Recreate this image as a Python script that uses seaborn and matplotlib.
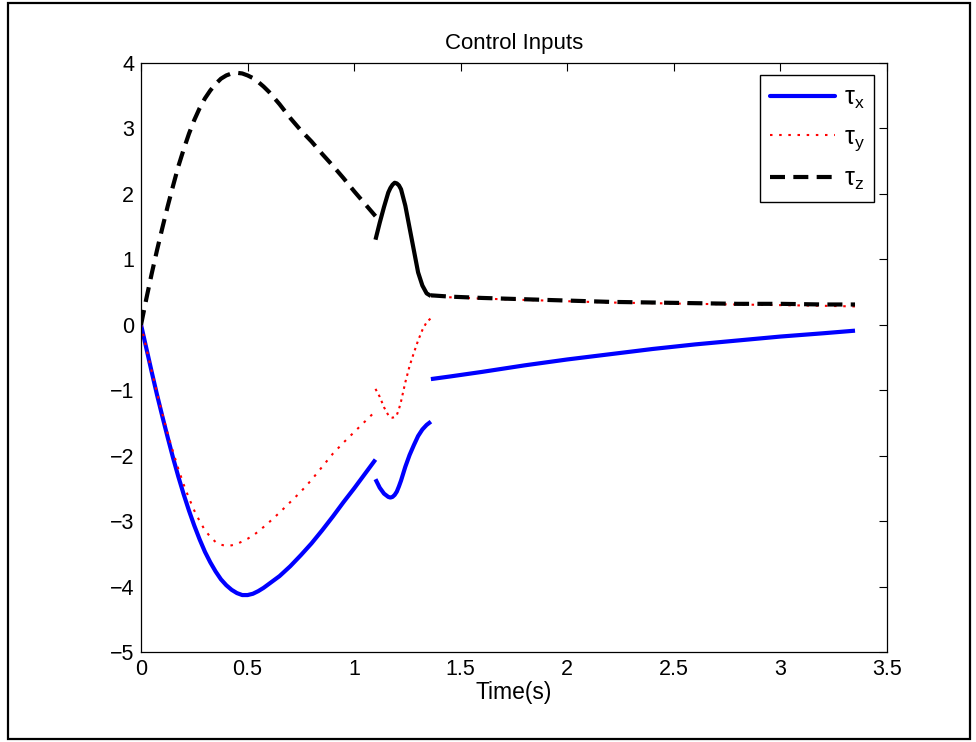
import matplotlib
matplotlib.use("Agg")
import matplotlib.pyplot as plt
from matplotlib.lines import Line2D
from matplotlib.patches import Rectangle
import numpy as np
import pandas as pd
import seaborn as sns

# --- values (three time segments) ---
t_seg1 = [0.0, 0.025, 0.05, 0.075, 0.1, 0.125, 0.15, 0.175, 0.2, 0.225, 0.25, 0.275, 0.3,
          0.325, 0.35, 0.375, 0.4, 0.425, 0.45, 0.475, 0.5, 0.525, 0.55, 0.575, 0.6,
          0.65, 0.7, 0.75, 0.8, 0.85, 0.9, 0.95, 1.0, 1.05, 1.1]
tau_x_seg1 = [0.0, -0.36, -0.72, -1.07, -1.40, -1.72, -2.03, -2.32, -2.59, -2.84, -3.07, -3.28, -3.47,
              -3.63, -3.77, -3.89, -3.98, -4.05, -4.10, -4.13, -4.13, -4.11, -4.07, -4.02, -3.96,
              -3.84, -3.69, -3.52, -3.34, -3.14, -2.93, -2.71, -2.50, -2.28, -2.06]
tau_y_seg1 = [0.0, -0.36, -0.71, -1.04, -1.36, -1.66, -1.94, -2.20, -2.44, -2.65, -2.84, -3.00, -3.14,
              -3.24, -3.32, -3.36, -3.38, -3.37, -3.35, -3.31, -3.27, -3.22, -3.16, -3.09, -3.02,
              -2.87, -2.71, -2.55, -2.37, -2.17, -1.97, -1.80, -1.64, -1.48, -1.32]
tau_z_seg1 = [0.0, 0.40, 0.78, 1.14, 1.48, 1.81, 2.12, 2.42, 2.68, 2.92, 3.13, 3.31, 3.46,
              3.58, 3.68, 3.76, 3.81, 3.84, 3.85, 3.84, 3.81, 3.77, 3.71, 3.64, 3.56,
              3.37, 3.16, 2.97, 2.80, 2.61, 2.43, 2.24, 2.04, 1.85, 1.66]

t_seg2 = [1.10, 1.12, 1.14, 1.16, 1.17, 1.18, 1.19, 1.20, 1.21, 1.22, 1.24, 1.26, 1.28, 1.30, 1.32, 1.34, 1.36]
tau_x_seg2 = [-2.36, -2.49, -2.58, -2.63, -2.64, -2.63, -2.60, -2.55, -2.47, -2.38, -2.17, -1.99, -1.84, -1.70, -1.60, -1.53, -1.48]
tau_y_seg2 = [-0.98, -1.10, -1.26, -1.38, -1.41, -1.42, -1.41, -1.38, -1.29, -1.17, -0.88, -0.63, -0.43, -0.24, -0.08, 0.04, 0.10]
tau_z_seg2 = [1.30, 1.56, 1.80, 2.02, 2.09, 2.14, 2.17, 2.16, 2.13, 2.07, 1.82, 1.48, 1.14, 0.80, 0.60, 0.48, 0.44]

t_seg3 = [1.36, 1.45, 1.6, 1.8, 2.0, 2.2, 2.4, 2.6, 2.8, 3.0, 3.2, 3.35]
tau_x_seg3 = [-0.83, -0.79, -0.72, -0.62, -0.53, -0.45, -0.37, -0.30, -0.24, -0.18, -0.13, -0.09]
tau_y_seg3 = [0.44, 0.42, 0.40, 0.38, 0.36, 0.34, 0.33, 0.32, 0.31, 0.30, 0.29, 0.28]
tau_z_seg3 = [0.45, 0.43, 0.41, 0.39, 0.37, 0.35, 0.34, 0.33, 0.32, 0.32, 0.31, 0.31]

series_names = ["tau_x", "tau_y", "tau_z"]
legend_labels = [r"τ$_{\rm x}$", r"τ$_{\rm y}$", r"τ$_{\rm z}$"]

# long table: one row per point
rows = []
segments = {
    1: (t_seg1, [tau_x_seg1, tau_y_seg1, tau_z_seg1]),
    2: (t_seg2, [tau_x_seg2, tau_y_seg2, tau_z_seg2]),
    3: (t_seg3, [tau_x_seg3, tau_y_seg3, tau_z_seg3]),
}
for seg, (ts, ys) in segments.items():
    for name, vals in zip(series_names, ys):
        for t, v in zip(ts, vals):
            rows.append({"t": t, "value": v, "series": name, "segment": seg})
df = pd.DataFrame(rows)

sns.set_style("white")
plt.rcParams["font.family"] = ["Liberation Sans", "DejaVu Sans"]
plt.rcParams["mathtext.fontset"] = "custom"
plt.rcParams["mathtext.rm"] = "Liberation Sans"
plt.rcParams["mathtext.it"] = "Liberation Sans:italic"
for key in ["text.color", "axes.labelcolor", "xtick.color", "ytick.color"]:
    plt.rcParams[key] = "black"

styles = {
    "tau_x": dict(color="#0000ff", lw=3.0, linestyle="-"),
    "tau_y": dict(color="#ff0000", lw=1.5, linestyle=(0, (1.2, 3.2))),
    "tau_z": dict(color="black", lw=3.0, linestyle=(0, (3.6, 2.0))),
}

fig = plt.figure(figsize=(9.76, 7.42), dpi=100)
ax = fig.add_axes([0.1445, 0.1213, 0.7643, 0.7938])

for name in series_names:
    for seg in (1, 2, 3):
        sub = df[(df["series"] == name) & (df["segment"] == seg)]
        st = dict(styles[name])
        # dense middle segment renders nearly solid for the dashed line
        if name == "tau_z" and seg == 2:
            st["linestyle"] = "-"
        if name == "tau_y" and seg == 2:
            st["linestyle"] = (0, (1.2, 2.0))
        sns.lineplot(data=sub, x="t", y="value", ax=ax, estimator=None, sort=False,
                     legend=False, solid_capstyle="butt", dash_capstyle="butt", **st)

ax.set_xlim(0, 3.5)
ax.set_ylim(-5, 4)
ax.set_xticks(np.arange(0, 3.51, 0.5))
ax.set_xticklabels(["0", "0.5", "1", "1.5", "2", "2.5", "3", "3.5"])
ax.set_yticks(np.arange(-5, 4.1, 1))
ax.tick_params(direction="in", length=5.5, width=0.8, top=True, right=True,
               labelsize=15.5, pad=5, color="black")
for sp in ax.spines.values():
    sp.set_visible(True)
    sp.set_color("black")
    sp.set_linewidth(0.9)

ax.set_title("Control Inputs", fontsize=16, pad=10)
ax.set_xlabel("Time(s)", fontsize=16.5, labelpad=1)
ax.set_ylabel("")

handles = [Line2D([], [], **styles[n]) for n in series_names]
leg = ax.legend(handles, legend_labels, loc="upper right", fontsize=18,
                handlelength=2.6, handletextpad=0.35, labelspacing=0.55,
                borderaxespad=0.5, fancybox=False, framealpha=1,
                edgecolor="black", borderpad=0.4)
leg.get_frame().set_linewidth(1.0)

# outer figure border
fig.patches.append(Rectangle((0.0082, 0.004), 0.9857, 0.992, transform=fig.transFigure,
                             fill=False, edgecolor="black", linewidth=1.6))

fig.savefig("out.png", dpi=100)
